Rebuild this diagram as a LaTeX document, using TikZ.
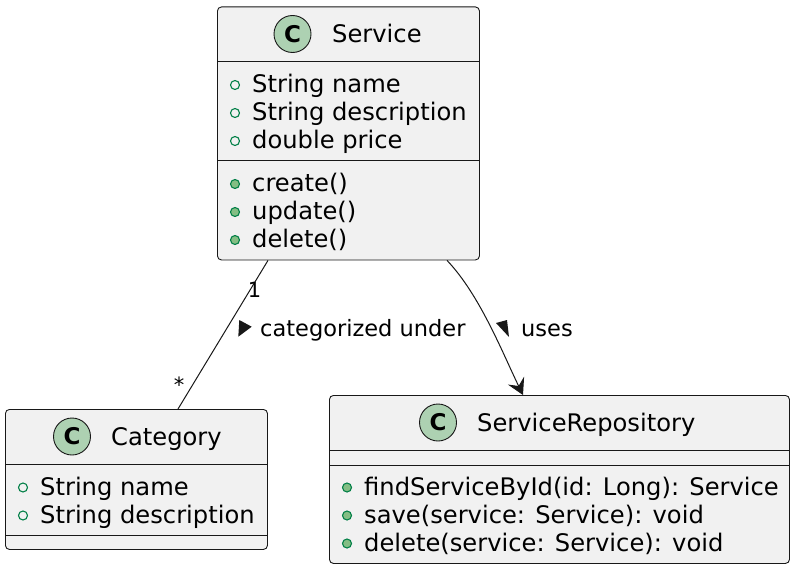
\documentclass[tikz,border=0pt]{standalone}
\usepackage{fontspec}
\setmainfont{DejaVu Sans}
\usetikzlibrary{arrows.meta}
\definecolor{linec}{HTML}{181818}
\definecolor{boxfill}{HTML}{F1F1F1}
\definecolor{circfill}{HTML}{ADD1B2}
\definecolor{markgreen}{HTML}{038048}
\definecolor{markfill}{HTML}{84BE84}
\tikzset{
  classbox/.style={draw=linec, fill=boxfill, rounded corners=4pt, line width=0.9pt, inner sep=0pt, anchor=north west},
  divline/.style={draw=linec, line width=0.9pt},
  classicon/.style={circle, draw=linec, fill=circfill, line width=0.9pt, minimum size=37pt, inner sep=0pt, font=\fontsize{23}{25}\bfseries\selectfont},
  classname/.style={anchor=base west, inner sep=0pt, font=\fontsize{24.2}{28}\selectfont, text=black},
  member/.style={anchor=base west, inner sep=0pt, font=\fontsize{24.2}{28}\selectfont, text=black},
  fieldmark/.style={circle, draw=markgreen, line width=1.1pt, minimum size=9pt, inner sep=0pt},
  methodmark/.style={circle, draw=markgreen, fill=markfill, line width=1.1pt, minimum size=9pt, inner sep=0pt},
  edge/.style={draw=linec, line width=1pt},
  edgelabel/.style={anchor=base west, inner sep=0pt, font=\fontsize{22.5}{26}\selectfont, text=black},
  multlabel/.style={anchor=base, inner sep=0pt, font=\fontsize{21}{24}\selectfont, text=black},
}
\begin{document}
\begin{tikzpicture}[x=1pt, y=-1pt]
\useasboundingbox (0,0) rectangle (794,567);

% ---------- Service ----------
\node[classbox, minimum width=262pt, minimum height=253pt] (service) at (217,6.5) {};
\draw[divline] ([yshift=-55pt]service.north west) -- ([yshift=-55pt]service.north east);
\draw[divline] ([yshift=-154pt]service.north west) -- ([yshift=-154pt]service.north east);
\node[classicon] (serviceicon) at (292.5,34) {C};
\node[classname] (servicename) at (332,42.5) {Service};
\node[fieldmark] (sf1m) at (235,85) {};
\node[member] (sf1) at (252,92.5) {String name};
\node[fieldmark] (sf2m) at (235,113) {};
\node[member] (sf2) at (252,120.5) {String description};
\node[fieldmark] (sf3m) at (235,141) {};
\node[member] (sf3) at (252,148.5) {double price};
\node[methodmark] (sm1m) at (235,184) {};
\node[member] (sm1) at (252,191.5) {create()};
\node[methodmark] (sm2m) at (235,212) {};
\node[member] (sm2) at (252,219.5) {update()};
\node[methodmark] (sm3m) at (235,240) {};
\node[member] (sm3) at (252,247.5) {delete()};

% ---------- Category ----------
\node[classbox, minimum width=262pt, minimum height=140pt] (category) at (5,409) {};
\draw[divline] ([yshift=-55pt]category.north west) -- ([yshift=-55pt]category.north east);
\draw[divline] ([yshift=-126pt]category.north west) -- ([yshift=-126pt]category.north east);
\node[classicon] (categoryicon) at (72,436.5) {C};
\node[classname] (categoryname) at (111,445) {Category};
\node[fieldmark] (cf1m) at (23,487.5) {};
\node[member] (cf1) at (40,495) {String name};
\node[fieldmark] (cf2m) at (23,515.5) {};
\node[member] (cf2) at (40,523) {String description};

% ---------- ServiceRepository ----------
\node[classbox, minimum width=460pt, minimum height=168pt] (repo) at (329,395) {};
\draw[divline] ([yshift=-55pt]repo.north west) -- ([yshift=-55pt]repo.north east);
\draw[divline] ([yshift=-70pt]repo.north west) -- ([yshift=-70pt]repo.north east);
\node[classicon] (repoicon) at (438,422.5) {C};
\node[classname] (reponame) at (477,431) {ServiceRepository};
\node[methodmark] (rm1m) at (347,487.5) {};
\node[member] (rm1) at (364,495) {findServiceById(id: Long): Service};
\node[methodmark] (rm2m) at (347,515.5) {};
\node[member] (rm2) at (364,523) {save(service: Service): void};
\node[methodmark] (rm3m) at (347,543.5) {};
\node[member] (rm3) at (364,551) {delete(service: Service): void};

% ---------- Connectors ----------
\draw[edge] ([xshift=51pt]service.south west) -- ([xshift=173pt]category.north west);
\node[multlabel] (mult1) at (254.5,297) {1};
\node[multlabel] (multstar) at (179,392) {*};
\fill[linec] (239.3,320) -- (251.7,326.7) -- (238.3,336.7) -- cycle;
\node[edgelabel] (catlabel) at (260,336) {categorized under};

\draw[edge, -{Stealth[length=16pt, width=18pt, inset=6pt]}]
  ([xshift=230pt]service.south west) .. controls (480,295) and (503,354) .. ([xshift=194pt]repo.north west);
\fill[linec] (496,323) -- (507,320) -- (509,337) -- cycle;
\node[edgelabel] (useslabel) at (521,336) {uses};
\end{tikzpicture}
\end{document}
